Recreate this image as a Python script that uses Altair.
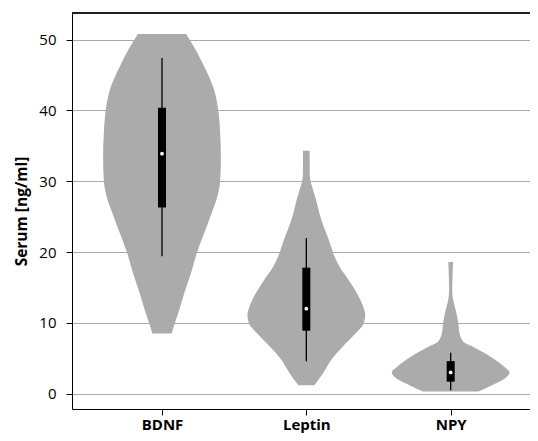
import json
import altair as alt
import pandas as pd

# ---- data ----
categories = ["BDNF", "Leptin", "NPY"]

bdnf_values = [8.5, 9.5, 11.4, 14.2, 17.0, 19.8, 22.7, 25.5, 27.6, 30.2, 33.5, 36.8, 40.1, 42.9, 46.2, 48.5, 50.8]
bdnf_density = [9.7, 11.7, 16.3, 22.3, 29.0, 34.7, 42.3, 49.7, 55.0, 58.3, 59.0, 58.3, 56.3, 52.3, 42.3, 34.0, 24.2]

leptin_values = [1.2, 2.9, 4.8, 6.6, 8.5, 9.9, 11.1, 12.3, 14.2, 16.1, 17.9, 19.9, 21.7, 23.6, 25.5, 27.4, 28.8, 30.0, 31.1, 34.3]
leptin_density = [8.0, 16.7, 25.0, 36.0, 49.0, 57.3, 58.8, 56.7, 50.5, 42.0, 33.3, 26.7, 22.5, 17.3, 13.0, 9.7, 6.7, 4.2, 3.4, 3.3]

npy_values = [0.3, 1.2, 2.2, 3.0, 3.8, 4.8, 5.7, 6.6, 7.3, 8.5, 10.0, 11.8, 13.2, 14.6, 16.5, 18.6]
npy_density = [27.5, 40.8, 54.0, 58.3, 53.0, 44.0, 34.0, 22.5, 12.8, 8.8, 7.5, 5.0, 2.5, 1.5, 1.8, 2.3]

whisker_low = [19.4, 4.6, 0.5]
q1 = [26.3, 8.9, 1.7]
median = [33.9, 12.0, 3.0]
q3 = [40.4, 17.8, 4.6]
whisker_high = [47.4, 22.0, 5.8]

y_ticks = [0, 10, 20, 30, 40, 50]

# ---- styling ----
MAX_HALF = 0.408          # half-width of the widest part of each violin (category units)
VIOLIN = "#ababab"
GRID = "#aaaaaa"
FONT = "Open Sans"
W, H = 458, 396

rows = []
for i, (vals, dens) in enumerate([(bdnf_values, bdnf_density),
                                  (leptin_values, leptin_density),
                                  (npy_values, npy_density)]):
    m = max(dens)
    for v, d in zip(vals, dens):
        half = d / m * MAX_HALF
        rows.append({"cat": categories[i], "val": v, "lo": i - half, "hi": i + half})
violin_df = pd.DataFrame(rows)

stats_df = pd.DataFrame({
    "cat": categories,
    "pos": list(range(len(categories))),
    "wlo": whisker_low, "q1": q1, "med": median, "q3": q3, "whi": whisker_high,
})

x_scale = alt.Scale(domain=[-0.6235, 2.5495], nice=False, zero=False)
y_scale = alt.Scale(domain=[-2.16, 53.77], nice=False, zero=False)

label_expr = json.dumps(categories) + "[datum.value]"

y_axis = alt.Axis(values=y_ticks, grid=True, gridColor=GRID, gridWidth=1.2,
                  domainColor="black", tickColor="black", tickSize=6,
                  labelFont=FONT, labelFontSize=15, labelColor="black", labelPadding=10,
                  title="Serum [ng/ml]", titleFont=FONT, titleFontSize=15.5,
                  titleFontWeight="bold", titleColor="black", titlePadding=9)

x_axis = alt.Axis(orient="bottom", values=[0, 1, 2], labelExpr=label_expr,
                  grid=False, domainColor="black", tickColor="black", tickSize=6,
                  labelFont=FONT, labelFontSize=15, labelFontWeight="bold",
                  labelColor="black", labelPadding=2, title=None)

violins = alt.Chart(violin_df).mark_area(
    orient="horizontal", interpolate="monotone", color=VIOLIN, opacity=1
).encode(
    y=alt.Y("val:Q", scale=y_scale, axis=y_axis),
    x=alt.X("lo:Q", scale=x_scale, axis=x_axis),
    x2="hi:Q",
    detail="cat:N",
)

whiskers = alt.Chart(stats_df).mark_rule(color="black", strokeWidth=1.3).encode(
    x=alt.X("pos:Q", scale=x_scale),
    y=alt.Y("wlo:Q", scale=y_scale),
    y2="whi:Q",
)

boxes = alt.Chart(stats_df).mark_rule(color="black", strokeWidth=8, strokeCap="butt").encode(
    x=alt.X("pos:Q", scale=x_scale),
    y=alt.Y("q1:Q", scale=y_scale),
    y2="q3:Q",
)

medians = alt.Chart(stats_df).mark_circle(color="white", size=14, opacity=1).encode(
    x=alt.X("pos:Q", scale=x_scale),
    y=alt.Y("med:Q", scale=y_scale),
)

top_border = alt.Chart(stats_df).mark_rule(color="black", strokeWidth=1).encode(
    x=alt.value(0), x2=alt.value(W), y=alt.value(0)
)

chart = alt.layer(violins, whiskers, boxes, medians, top_border).properties(
    width=W, height=H,
    autosize=alt.AutoSizeParams(type="none"),
    padding={"left": 64, "top": 5, "right": 0, "bottom": 24},
).configure_view(stroke=None)

chart.save("out.html", embed_options={"renderer": "svg", "actions": False})
